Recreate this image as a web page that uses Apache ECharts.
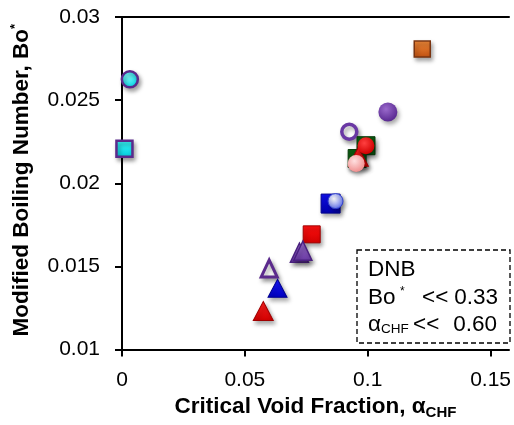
<!DOCTYPE html>
<html>
<head>
<meta charset="utf-8">
<script src="https://cdn.jsdelivr.net/npm/echarts@6/dist/echarts.min.js"></script>
<style>html,body{margin:0;padding:0;background:#fff}#c{width:514px;height:425px}</style>
</head>
<body>
<div id="c"></div>
<script>
// ---- data (x = critical void fraction, y = modified boiling number) ----
const xTicks = [0, 0.05, 0.1, 0.15];
const yTicks = [0.01, 0.015, 0.02, 0.025, 0.03];
const cyanCircles = [[0.0032, 0.02625]];
const cyanSquares = [[0.0010, 0.02208]];
const orangeSquares = [[0.1222, 0.02807]];
const purpleCircles = [[0.1082, 0.02429]];
const purpleOpenCircles = [[0.0925, 0.02310]];
const greenSquares = [[0.0993, 0.02226], [0.0957, 0.02149]];
const redTriangles = [[0.0575, 0.01232], [0.0962, 0.02160]];
const redCircles = [[0.0993, 0.02226]];
const pinkCircles = [[0.0953, 0.02119]];
const blueSquares = [[0.0849, 0.01878]];
const lightBlueCircles = [[0.0869, 0.01893]];
const redSquares = [[0.0772, 0.01693]];
const purpleTriangles = [[0.0722, 0.01583], [0.0736, 0.01595]];
const purpleOpenTriangles = [[0.0599, 0.01488]];
const blueTriangles = [[0.0633, 0.01369]];

const FONT = "'Liberation Sans', Arial, sans-serif";
const shadow = {shadowBlur: 4, shadowOffsetX: 2, shadowOffsetY: 3, shadowColor: 'rgba(0,0,0,0.35)'};
function rad(c0, c1) {
  return {type: 'radial', x: 0.4, y: 0.35, r: 0.65, colorStops: [{offset: 0, color: c0}, {offset: 1, color: c1}]};
}
function lin(c0, c1) {
  return {type: 'linear', x: 0, y: 0, x2: 0, y2: 1, colorStops: [{offset: 0, color: c0}, {offset: 1, color: c1}]};
}
function sc(data, symbol, size, itemStyle) {
  return {type: 'scatter', data: data, symbol: symbol, symbolSize: size, animation: false,
    itemStyle: Object.assign({opacity: 1}, shadow, itemStyle)};
}
function txt(x, y, s, size, align) {
  return {type: 'text', x: x, y: y, z: 51,
    style: {text: s, font: size + 'px ' + FONT, fill: '#000', verticalAlign: 'middle', align: align || 'left'}};
}

const chart = echarts.init(document.getElementById('c'), null, {renderer: 'canvas'});
chart.setOption({
  backgroundColor: '#fff',
  animation: false,
  grid: {left: 122, right: 0, top: 17, bottom: 72},
  xAxis: [{
    type: 'value', min: xTicks[0], max: 0.1575, interval: 0.05,
    axisLine: {onZero: false, lineStyle: {color: '#000', width: 2}},
    axisTick: {show: true, length: 7, lineStyle: {color: '#000', width: 2}},
    splitLine: {show: false},
    axisLabel: {color: '#000', fontSize: 21, fontFamily: FONT, margin: 20, showMaxLabel: false,
      formatter: v => (xTicks.indexOf(+v.toFixed(3)) >= 0 ? String(+v.toFixed(3)) : '')},
    name: '{t|Critical Void Fraction, α}{s|CHF}', nameLocation: 'middle', nameGap: 44,
    nameTextStyle: {rich: {
      t: {fontSize: 22.5, fontWeight: 'bold', fontFamily: FONT, color: '#000', lineHeight: 26},
      s: {fontSize: 15, fontWeight: 'bold', fontFamily: FONT, color: '#000', verticalAlign: 'bottom', lineHeight: 26, padding: [8, 0, 0, 0]}
    }}
  }, {
    type: 'value', position: 'top', min: 0, max: 0.1575,
    axisLine: {show: true, onZero: false, lineStyle: {color: '#000', width: 2}},
    axisTick: {show: false}, axisLabel: {show: false}, splitLine: {show: false}
  }],
  yAxis: {
    type: 'value', min: yTicks[0], max: yTicks[yTicks.length - 1], interval: 0.005,
    axisLine: {show: true, onZero: false, lineStyle: {color: '#000', width: 2}},
    axisTick: {show: true, length: 7, lineStyle: {color: '#000', width: 2}},
    splitLine: {show: false},
    axisLabel: {color: '#000', fontSize: 21, fontFamily: FONT, margin: 22,
      formatter: v => String(+v.toFixed(3))},
    name: '{t|Modified Boiling Number, Bo}{s|*}', nameLocation: 'middle', nameGap: 87,
    nameTextStyle: {padding: [0, 0, 0, 6], rich: {
      t: {fontSize: 22.5, fontWeight: 'bold', fontFamily: FONT, color: '#000', lineHeight: 26},
      s: {fontSize: 13, fontWeight: 'bold', fontFamily: FONT, color: '#000', verticalAlign: 'top', lineHeight: 26}
    }}
  },
  series: [
    sc(cyanSquares, 'rect', 16, {color: lin('#40ffff', '#00c8d8'), borderColor: '#5b2a8c', borderWidth: 2.5}),
    sc(cyanCircles, 'circle', 16, {color: rad('#80ffff', '#00d0e0'), borderColor: '#5b2a8c', borderWidth: 2.5}),
    sc(orangeSquares, 'rect', 16, {color: lin('#f08a3a', '#c05010'), borderColor: '#7a3410', borderWidth: 1.5}),
    sc(purpleCircles, 'circle', 19, {color: rad('#9a6acc', '#5a2a92')}),
    sc(purpleOpenCircles, 'circle', 15, {color: '#fff', borderColor: '#6a38a4', borderWidth: 3.5}),
    sc(greenSquares, 'rect', 18, {color: '#0b5a10', borderColor: '#063a08', borderWidth: 1}),
    sc(redTriangles, 'triangle', [20, 19], {color: lin('#ff2020', '#d00000'), borderColor: '#a00000', borderWidth: 1}),
    sc(redCircles, 'circle', 17, {color: rad('#ff4040', '#d00000')}),
    sc(pinkCircles, 'circle', 17, {color: rad('#ffe0e0', '#f09090')}),
    sc(blueSquares, 'rect', 19, {color: lin('#1010f0', '#0000b0'), borderColor: '#000090', borderWidth: 1}),
    sc(lightBlueCircles, 'circle', 15, {color: rad('#ffffff', '#6070e8'), borderColor: '#3040d0', borderWidth: 1}),
    sc(redSquares, 'rect', 17, {color: lin('#ff1010', '#d00000'), borderColor: '#a00000', borderWidth: 1}),
    sc(purpleTriangles, 'triangle', [18, 19], {color: lin('#9a70cc', '#6a3aa4'), borderColor: '#4a2080', borderWidth: 1.5}),
    sc(purpleOpenTriangles, 'triangle', [16, 17], {color: '#fff', borderColor: '#5b2a8c', borderWidth: 3}),
    sc(blueTriangles, 'triangle', [19, 18], {color: lin('#1818ff', '#0000c0'), borderColor: '#000090', borderWidth: 1})
  ],
  graphic: [
    {type: 'rect', shape: {x: 357, y: 250, width: 153, height: 93}, z: 50,
      style: {fill: 'rgba(255,255,255,0)', stroke: '#000', lineWidth: 1.3, lineDash: [5, 3]}},
    txt(368, 269.5, 'DNB', 22.5),
    txt(368, 297.5, 'Bo', 22.5),
    txt(400, 292, '*', 12),
    txt(422, 297.5, '<<', 22.5),
    txt(498, 297.5, '0.33', 22.5, 'right'),
    txt(368, 325, 'α', 22.5),
    txt(381, 329.5, 'CHF', 13.5),
    txt(413, 324.5, '<<', 22.5),
    txt(497, 324.5, '0.60', 22.5, 'right')
  ]
});
</script>
</body>
</html>
